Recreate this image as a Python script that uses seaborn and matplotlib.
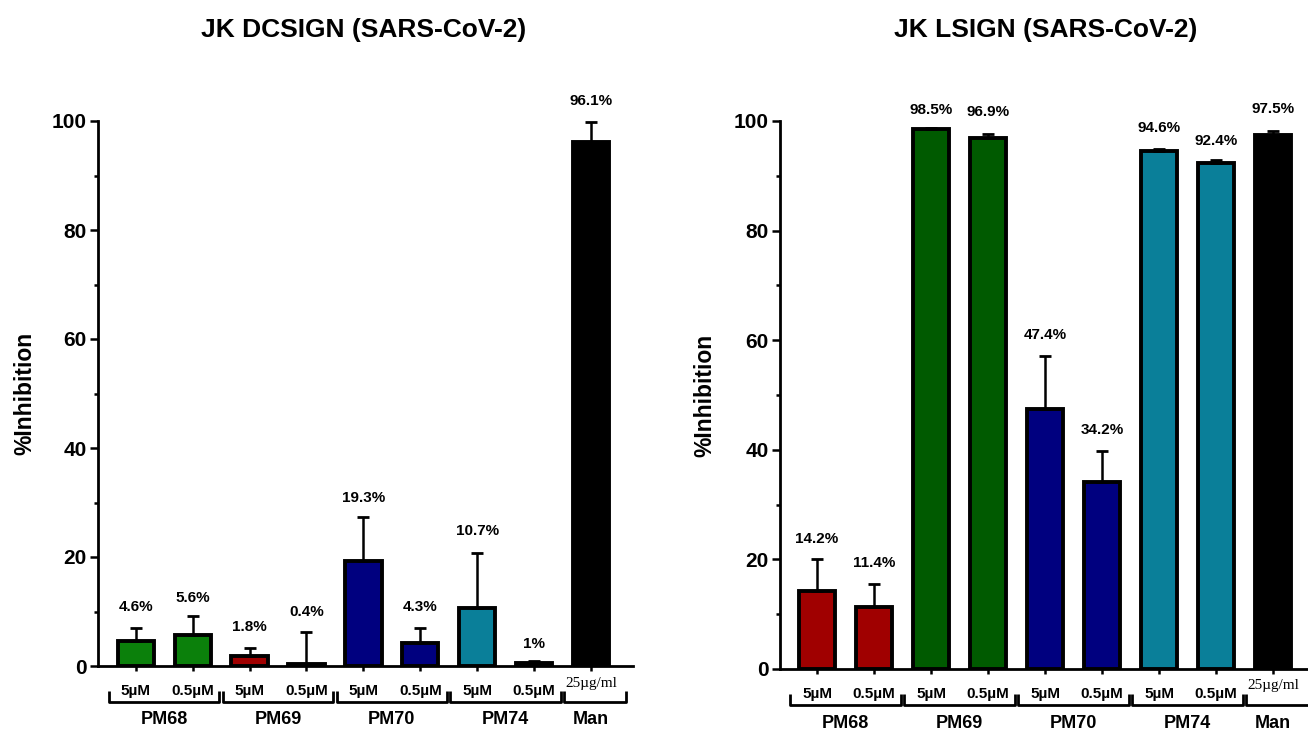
import numpy as np
import pandas as pd
import matplotlib
matplotlib.use("Agg")
import matplotlib.pyplot as plt
import seaborn as sns
from matplotlib.transforms import blended_transform_factory

# ---------------- data ----------------
doses = ["5µM", "0.5µM", "5µM", "0.5µM", "5µM", "0.5µM", "5µM", "0.5µM", "25µg/ml"]
groups = ["PM68", "PM69", "PM70", "PM74", "Man"]
group_sizes = [2, 2, 2, 2, 1]

dc_title = "JK DCSIGN (SARS-CoV-2)"
dc_values = [4.6, 5.6, 1.8, 0.4, 19.3, 4.3, 10.7, 0.5, 96.1]
dc_errors = [2.4, 3.5, 1.5, 5.8, 8.0, 2.6, 10.0, 0.4, 3.7]
dc_labels = ["4.6%", "5.6%", "1.8%", "0.4%", "19.3%", "4.3%", "10.7%", "1%", "96.1%"]
dc_label_y = [10.9, 12.4, 7.1, 10.0, 30.8, 10.9, 24.8, 4.0, 103.6]
dc_colors = ["#0b800b", "#0b800b", "#a00000", "#a00000", "#00007f", "#00007f",
             "#0a7f99", "#0a7f99", "#000000"]

ls_title = "JK LSIGN (SARS-CoV-2)"
ls_values = [14.2, 11.4, 98.5, 96.9, 47.4, 34.2, 94.6, 92.4, 97.5]
ls_errors = [5.9, 4.1, 0.3, 0.7, 9.7, 5.5, 0.3, 0.4, 0.6]
ls_labels = ["14.2%", "11.4%", "98.5%", "96.9%", "47.4%", "34.2%", "94.6%", "92.4%", "97.5%"]
ls_label_y = [23.8, 19.3, 102.0, 101.7, 60.9, 43.6, 98.7, 96.4, 102.2]
ls_colors = ["#a00000", "#a00000", "#005a00", "#005a00", "#00007f", "#00007f",
             "#0a7f99", "#0a7f99", "#000000"]

# ---------------- style ----------------
sns.set_theme(style="ticks")
plt.rcParams["font.family"] = ["Liberation Sans", "DejaVu Sans"]
plt.rcParams["text.color"] = "black"
plt.rcParams["axes.labelcolor"] = "black"
plt.rcParams["xtick.color"] = "black"
plt.rcParams["ytick.color"] = "black"

W, H, DPI = 13.08, 7.30, 100
fig = plt.figure(figsize=(W, H), dpi=DPI)

SERIF = ["Liberation Serif", "DejaVu Serif"]


def draw_panel(rect, title, title_x, values, errors, labels, label_y, colors,
               xlim, last_bracket_end, ylabel_x):
    ax = fig.add_axes(rect)
    n = len(values)
    ids = [f"{i}" for i in range(n)]
    df = pd.DataFrame({"bar": ids, "value": values})
    sns.barplot(data=df, x="bar", y="value", hue="bar", order=ids, hue_order=ids,
                palette=colors, saturation=1, legend=False, width=0.64,
                edgecolor="black", linewidth=2.8, ax=ax, zorder=2)
    xs = np.arange(n)
    eb = ax.errorbar(xs, values, yerr=[np.zeros(n), errors], fmt="none",
                     ecolor="black", elinewidth=1.8, capsize=4.5, capthick=2.0,
                     zorder=3)
    for art in eb.get_children():
        art.set_clip_on(False)

    ax.set_xlim(*xlim)
    ax.set_ylim(0, 100)
    ax.set_yticks([0, 20, 40, 60, 80, 100])
    ax.set_yticks([10, 30, 50, 70, 90], minor=True)
    ax.set_yticklabels(["0", "20", "40", "60", "80", "100"],
                       fontsize=15, fontweight="bold")
    ax.tick_params(axis="y", which="major", length=6, width=1.8, pad=2, colors="black")
    ax.tick_params(axis="y", which="minor", length=3, width=1.8, colors="black")
    ax.set_xticks(xs)
    ax.set_xticklabels([])
    ax.tick_params(axis="x", which="major", length=3.5, width=1.8, colors="black")
    ax.set_xlabel("")
    ax.set_ylabel("")
    for s in ["top", "right"]:
        ax.spines[s].set_visible(False)
    for s in ["left", "bottom"]:
        ax.spines[s].set_linewidth(2.0)
        ax.spines[s].set_color("black")

    hpx = rect[3] * H * DPI
    tr = blended_transform_factory(ax.transData, ax.transAxes)

    # value labels
    for x, ly, lab in zip(xs, label_y, labels):
        ax.text(x, ly, lab, ha="center", va="center", fontsize=11,
                fontweight="bold", clip_on=False)

    # dose labels
    for x, d in zip(xs, doses):
        if d.startswith("25"):
            ax.text(x, -17 / hpx, d, transform=tr, ha="center", va="center",
                    fontsize=11, family=SERIF, clip_on=False)
        else:
            ax.text(x, -25 / hpx, d, transform=tr, ha="center", va="center",
                    fontsize=11, fontweight="bold", clip_on=False)

    # group brackets and names
    start = 0
    for gi, (g, sz) in enumerate(zip(groups, group_sizes)):
        i0, i1 = start, start + sz - 1
        x0 = i0 - 0.47
        x1 = i1 + 0.47 if gi < len(groups) - 1 else last_bracket_end
        ytop, ybot = -25 / hpx, -36 / hpx
        ax.plot([x0, x0, x1, x1], [ytop, ybot, ybot, ytop], transform=tr,
                color="black", lw=2.0, clip_on=False, solid_capstyle="butt")
        ax.text((i0 + i1) / 2, -54 / hpx, g, transform=tr, ha="center",
                va="center", fontsize=13, fontweight="bold", clip_on=False)
        start += sz

    ax.text(ylabel_x, 0.5, "%Inhibition", transform=ax.transAxes, rotation=90,
            ha="center", va="center", fontsize=16.5, fontweight="bold")
    fig.text(title_x, 1 - 30 / (H * DPI), title, ha="center", va="center",
             fontsize=19, fontweight="bold")
    return ax


draw_panel([98 / 1308, 1 - 666 / 730, 535 / 1308, 545 / 730], dc_title, 364 / 1308,
           dc_values, dc_errors, dc_labels, dc_label_y, dc_colors,
           (-0.665, 8.74), 8.62, -73 / 535)
draw_panel([780 / 1308, 1 - 669 / 730, 528 / 1308, 548 / 730], ls_title, 1046 / 1308,
           ls_values, ls_errors, ls_labels, ls_label_y, ls_colors,
           (-0.65, 8.61), 8.75, -75 / 528)

fig.savefig("out.png", dpi=DPI, facecolor="white")
